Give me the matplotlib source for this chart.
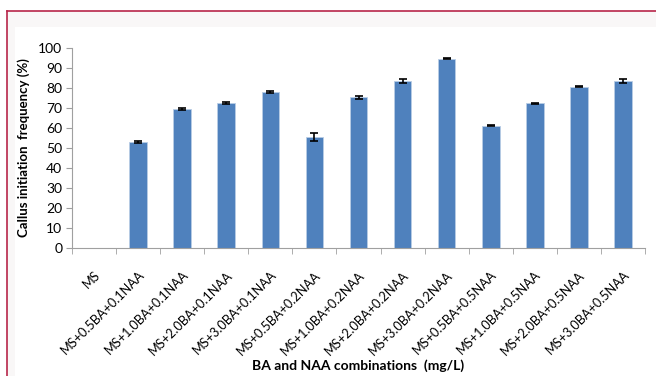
import matplotlib
matplotlib.use("Agg")
import matplotlib.pyplot as plt
from matplotlib.patches import Rectangle
from matplotlib.lines import Line2D
import numpy as np

# data
categories = ["MS", "MS+0.5BA+0.1NAA", "MS+1.0BA+0.1NAA", "MS+2.0BA+0.1NAA",
              "MS+3.0BA+0.1NAA", "MS+0.5BA+0.2NAA", "MS+1.0BA+0.2NAA",
              "MS+2.0BA+0.2NAA", "MS+3.0BA+0.2NAA", "MS+0.5BA+0.5NAA",
              "MS+1.0BA+0.5NAA", "MS+2.0BA+0.5NAA", "MS+3.0BA+0.5NAA"]
values = [0, 53.0, 69.5, 72.5, 78.0, 55.5, 75.3, 83.5, 94.7, 61.2, 72.3, 80.7, 83.5]
errors = [0, 0.5, 0.5, 0.5, 0.7, 2.0, 0.8, 0.8, 0.4, 0.4, 0.4, 0.4, 0.8]

plt.rcParams['font.family'] = ['Lato', 'DejaVu Sans']

fig = plt.figure(figsize=(6.56, 3.76), dpi=100)
W, H = 656, 376

# frame like the source page
fig.add_artist(Rectangle((7 / W, 0), 1, 1 - 11 / H, transform=fig.transFigure,
                         facecolor='#f9f7f7', edgecolor='none', zorder=0))
fig.add_artist(Rectangle((15 / W, 0), 1, 1 - 27 / H, transform=fig.transFigure,
                         facecolor='white', edgecolor='none', zorder=0))
fig.add_artist(Line2D([7 / W, 1], [1 - 11 / H, 1 - 11 / H], color='#b8264a', lw=1.2))
fig.add_artist(Line2D([7 / W, 7 / W], [0, 1 - 11 / H], color='#b8264a', lw=1.2))

ax = fig.add_axes([72 / W, 1 - 248 / H, (645 - 72) / W, 200 / H])
ax.set_facecolor('none')

x = np.arange(len(categories))
ax.bar(x, values, width=0.4, color='#4f81bd', edgecolor='#b9cde5', linewidth=0.6, zorder=2)
ax.errorbar(x[1:], values[1:], yerr=errors[1:], fmt='none', ecolor='black',
            elinewidth=1.2, capsize=3, capthick=1.2, zorder=3)

ax.set_xlim(-0.5, len(categories) - 0.5)
ax.set_ylim(0, 100)
ax.set_yticks(range(0, 101, 10))
ax.tick_params(axis='y', labelsize=10, length=4, color='#a0a0a0', pad=3)
ax.set_xticks(x)
ax.set_xticklabels(categories, rotation=45, ha='right', rotation_mode='anchor', fontsize=9.2)
ax.set_xticks(np.arange(-0.5, len(categories), 1), minor=True)
ax.tick_params(axis='x', which='major', length=0, pad=15)
ax.tick_params(axis='x', which='minor', length=4, color='#a0a0a0')

for s in ['top', 'right']:
    ax.spines[s].set_visible(False)
ax.spines['left'].set_color('#a0a0a0')
ax.spines['bottom'].set_color('#a0a0a0')

ax.set_ylabel('Callus initiation  frequency (%)', fontsize=9.5, fontweight='bold', labelpad=6)
fig.text((72 + 645) / 2 / W, 1 - 366 / H, 'BA and NAA combinations  (mg/L)',
         ha='center', va='center', fontsize=10, fontweight='bold')

fig.savefig('out.png', dpi=100)
